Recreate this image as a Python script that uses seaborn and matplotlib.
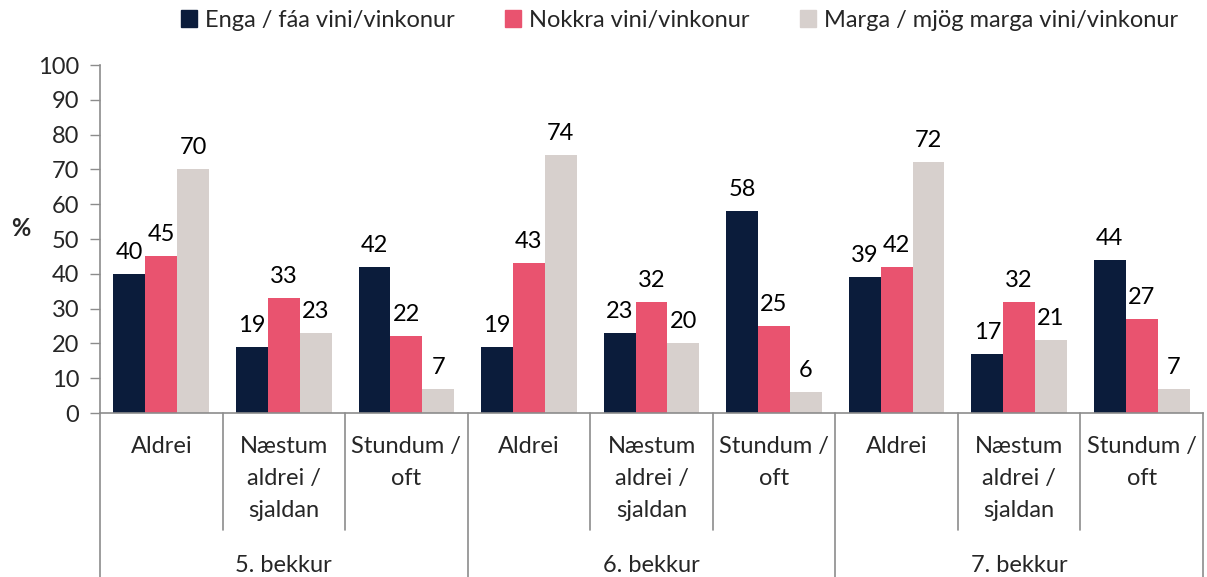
import pandas as pd
import matplotlib.pyplot as plt
import matplotlib.transforms as mtransforms
import seaborn as sns

# Data
grades = ['5. bekkur', '6. bekkur', '7. bekkur']
categories = ['Aldrei', 'Næstum\naldrei /\nsjaldan', 'Stundum /\noft']
series = ['Enga / fáa vini/vinkonur', 'Nokkra vini/vinkonur', 'Marga / mjög marga vini/vinkonur']

enga = [40, 19, 42, 19, 23, 58, 39, 17, 44]
nokkra = [45, 33, 22, 43, 32, 25, 42, 32, 27]
marga = [70, 23, 7, 74, 20, 6, 72, 21, 7]

colors = ['#0B1C3B', '#E9536F', '#D7D0CD']

rows = []
positions = [f'{g}|{c}' for g in grades for c in categories]
for name, vals in zip(series, [enga, nokkra, marga]):
    for pos, v in zip(positions, vals):
        rows.append({'pos': pos, 'series': name, 'value': v})
df = pd.DataFrame(rows)

sns.set_style('white')
plt.rcParams['font.family'] = ['Lato', 'DejaVu Sans']
FS = 17

fig = plt.figure(figsize=(12.07, 5.77), dpi=100)
ax = fig.add_axes([100 / 1207, (577 - 413) / 577, 1103 / 1207, 348 / 577])

sns.barplot(data=df, x='pos', y='value', hue='series', order=positions,
            hue_order=series, palette=colors, saturation=1, width=0.78,
            linewidth=0, ax=ax, legend=True)

for cont in ax.containers:
    ax.bar_label(cont, fmt='%.0f', padding=8, fontsize=FS, color='black')

ax.set_xlim(-0.5, len(positions) - 0.5)
ax.set_ylim(0, 100)
ax.set_yticks(range(0, 101, 10))
ax.tick_params(axis='y', labelsize=FS, length=7, width=1, color='#8c8c8c',
               direction='out', left=True, pad=8)
ax.set_xticks([])
ax.set_xlabel('')
ax.set_ylabel('')
fig.text(21 / 1207, 1 - 228 / 577, '%', ha='center', va='center',
         fontsize=FS, fontweight='bold')

for side in ['top', 'right']:
    ax.spines[side].set_visible(False)
for side in ['left', 'bottom']:
    ax.spines[side].set_color('#8c8c8c')
    ax.spines[side].set_linewidth(1.2)

# Category axis with separators
trans = mtransforms.blended_transform_factory(ax.transData, ax.transAxes)
minor_bottom = (413 - 530) / 348
major_bottom = (413 - 577) / 348
for i in range(len(positions) + 1):
    x = i - 0.5
    bottom = major_bottom if i % 3 == 0 else minor_bottom
    ax.plot([x, x], [0, bottom], transform=trans, color='#8c8c8c', lw=1.2,
            clip_on=False)

for i, pos in enumerate(positions):
    ax.text(i, (413 - 436) / 348, pos.split('|')[1], transform=trans,
            ha='center', va='top', fontsize=FS, linespacing=1.65)
for j, g in enumerate(grades):
    ax.text(3 * j + 1, (413 - 565) / 348, g, transform=trans, ha='center',
            va='center', fontsize=FS)

ax.get_legend().remove()
handles = [plt.Rectangle((0, 0), 1, 1, color=c) for c in colors]
fig.legend(handles, series, loc='center', bbox_to_anchor=(0.563, 0.965),
           ncol=3, frameon=False, fontsize=FS, handlelength=0.7,
           handleheight=0.7, handletextpad=0.35, columnspacing=2.1)

fig.savefig('out.png', dpi=100)
